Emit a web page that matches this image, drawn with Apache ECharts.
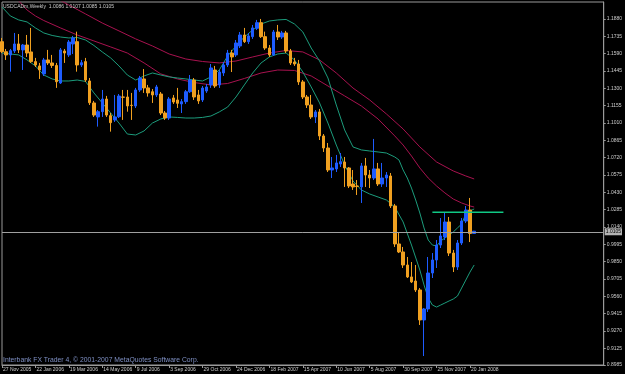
<!DOCTYPE html>
<html>
<head>
<meta charset="utf-8">
<script src="https://cdn.jsdelivr.net/npm/echarts@6/dist/echarts.min.js"></script>
<style>
html,body{margin:0;padding:0;background:#000;}
#chart{width:625px;height:374px;}
</style>
</head>
<body>
<div id="chart"></div>
<script>
// ---- data (USDCADm, Weekly) ----
const symbolTitle = 'USDCADm,Weekly';
const copyrightText = 'Interbank FX Trader 4, \u00a9 2001-2007 MetaQuotes Software Corp.';
const xTickLabels = ['27 Nov 2005','22 Jan 2006','19 Mar 2006','14 May 2006','9 Jul 2006','3 Sep 2006','29 Oct 2006','24 Dec 2006','18 Feb 2007','15 Apr 2007','10 Jun 2007','5 Aug 2007','30 Sep 2007','25 Nov 2007','20 Jan 2008'];
const yTickLabels = [0.8985,0.9125,0.9270,0.9415,0.9560,0.9705,0.9850,0.9995,1.0140,1.0285,1.0430,1.0575,1.0720,1.0865,1.1010,1.1155,1.1300,1.1445,1.1590,1.1735,1.1880];

const openVals = [1.1691,1.1607,1.1580,1.1613,1.1672,1.1622,1.1663,1.1605,1.1524,1.1488,1.1421,1.1538,1.1513,1.1492,1.1345,1.1613,1.1580,1.1672,1.1691,1.1496,1.1524,1.1362,1.1178,1.1061,1.1105,1.1211,1.1072,1.1036,1.1063,1.1228,1.1228,1.1159,1.1153,1.1287,1.1379,1.1304,1.1272,1.1245,1.1253,1.1094,1.1052,1.1220,1.1203,1.1170,1.1189,1.1272,1.1370,1.1245,1.1203,1.1278,1.1329,1.1454,1.1329,1.1429,1.1496,1.1596,1.1580,1.1655,1.1747,1.1691,1.1733,1.1803,1.1850,1.1733,1.1638,1.1580,1.1772,1.1730,1.1764,1.1613,1.1521,1.1504,1.1354,1.1228,1.1161,1.1061,1.1103,1.0902,1.0801,1.0617,1.0626,1.0667,1.0684,1.0634,1.0500,1.0483,1.0475,1.0651,1.0575,1.0550,1.0626,1.0500,1.0550,1.0567,1.0316,0.9998,0.9931,0.9822,0.9722,0.9688,0.9613,0.9362,0.9454,0.9755,0.9864,0.9989,1.0056,1.0182,0.9922,0.9805,1.0006,1.0190,1.0282,1.0086];
const highVals = [1.1722,1.1630,1.1630,1.1764,1.1755,1.1672,1.1747,1.1806,1.1555,1.1513,1.1555,1.1622,1.1580,1.1513,1.1638,1.1630,1.1705,1.1739,1.1775,1.1538,1.1555,1.1387,1.1195,1.1119,1.1287,1.1237,1.1094,1.1245,1.1253,1.1287,1.1287,1.1262,1.1304,1.1404,1.1462,1.1329,1.1295,1.1329,1.1270,1.1111,1.1228,1.1245,1.1304,1.1211,1.1287,1.1412,1.1387,1.1287,1.1320,1.1337,1.1504,1.1488,1.1454,1.1521,1.1622,1.1622,1.1705,1.1772,1.1806,1.1764,1.1831,1.1873,1.1881,1.1775,1.1663,1.1789,1.1831,1.1781,1.1781,1.1630,1.1555,1.1538,1.1370,1.1245,1.1245,1.1119,1.1128,1.0918,1.0843,1.0726,1.0743,1.0759,1.0726,1.0642,1.0617,1.0533,1.0676,1.0718,1.0617,1.0877,1.0676,1.0676,1.0600,1.0592,1.0333,1.0098,0.9973,0.9889,0.9847,0.9822,0.9629,0.9462,0.9889,0.9922,1.0031,1.0215,1.0257,1.0224,0.9948,1.0031,1.0215,1.0316,1.0383,1.0107];
const lowVals = [1.1596,1.1538,1.1440,1.1596,1.1596,1.1454,1.1563,1.1513,1.1479,1.1379,1.1404,1.1496,1.1471,1.1304,1.1337,1.1513,1.1563,1.1588,1.1440,1.1479,1.1354,1.1161,1.1061,1.0980,1.1061,1.1061,1.0938,1.1019,1.1052,1.1036,1.1105,1.1036,1.1136,1.1270,1.1262,1.1231,1.1178,1.1228,1.1077,1.1036,1.1036,1.1170,1.1136,1.1094,1.1170,1.1262,1.1203,1.1170,1.1186,1.1262,1.1304,1.1304,1.1304,1.1404,1.1479,1.1437,1.1563,1.1638,1.1680,1.1672,1.1714,1.1789,1.1722,1.1622,1.1563,1.1571,1.1705,1.1714,1.1596,1.1496,1.1488,1.1329,1.1211,1.1136,1.1044,1.1010,1.0868,1.0768,1.0600,1.0550,1.0600,1.0642,1.0475,1.0466,1.0450,1.0408,1.0341,1.0475,1.0466,1.0533,1.0483,1.0475,1.0475,1.0299,0.9973,0.9922,0.9797,0.9713,0.9671,0.9596,0.9320,0.9060,0.9429,0.9713,0.9797,0.9964,1.0031,0.9897,0.9763,0.9780,0.9989,1.0173,1.0014,1.0085];
const closeVals = [1.1607,1.1580,1.1616,1.1672,1.1622,1.1663,1.1596,1.1524,1.1496,1.1454,1.1538,1.1513,1.1492,1.1356,1.1622,1.1596,1.1688,1.1722,1.1496,1.1515,1.1370,1.1180,1.1077,1.1105,1.1211,1.1077,1.1013,1.1061,1.1236,1.1226,1.1153,1.1157,1.1287,1.1387,1.1304,1.1262,1.1245,1.1312,1.1094,1.1052,1.1211,1.1186,1.1175,1.1189,1.1272,1.1370,1.1228,1.1195,1.1303,1.1312,1.1471,1.1320,1.1437,1.1496,1.1596,1.1563,1.1680,1.1747,1.1691,1.1739,1.1806,1.1850,1.1733,1.1638,1.1580,1.1772,1.1730,1.1764,1.1613,1.1513,1.1504,1.1354,1.1228,1.1161,1.1061,1.1103,1.0902,1.0801,1.0617,1.0634,1.0676,1.0687,1.0634,1.0483,1.0475,1.0479,1.0651,1.0575,1.0550,1.0626,1.0500,1.0550,1.0575,1.0316,0.9998,0.9931,0.9822,0.9722,0.9680,0.9613,0.9362,0.9454,0.9755,0.9864,0.9989,1.0065,1.0182,0.9922,0.9805,1.0006,1.0190,1.0282,1.0086,1.0105];

// indicator lines: [bar index, price]
const tealUpper = [[0,1.1981],[2,1.1906],[4,1.1873],[6,1.1856],[8,1.1806],[10,1.1764],[12,1.1743],[14,1.1730],[16,1.1722],[18,1.1726],[20,1.1705],[22,1.1659],[24,1.1605],[26,1.1555],[28,1.1488],[30,1.1412],[32,1.1370],[34,1.1404],[36,1.1429],[38,1.1412],[40,1.1396],[42,1.1387],[44,1.1379],[46,1.1370],[48,1.1362],[50,1.1396],[52,1.1454],[54,1.1571],[56,1.1655],[58,1.1730],[60,1.1789],[62,1.1839],[64,1.1864],[66,1.1873],[68,1.1877],[70,1.1839],[72,1.1772],[74,1.1638],[76,1.1529],[78,1.1387],[80,1.1161],[82,1.0952],[84,1.0810],[86,1.0785],[88,1.0776],[90,1.0768],[92,1.0759],[94,1.0726],[95,1.0701],[96,1.0617],[97,1.0550],[98,1.0466],[99,1.0366],[100,1.0257],[101,1.0132],[102,1.0031],[103,0.9989],[104,0.9981],[105,1.0023],[106,1.0048],[107,1.0073],[108,1.0098],[109,1.0132],[110,1.0165],[111,1.0249],[112,1.0274],[113,1.0291]];
const tealLower = [[0,1.1596],[2,1.1588],[4,1.1580],[6,1.1538],[8,1.1488],[10,1.1412],[12,1.1379],[14,1.1362],[16,1.1362],[18,1.1370],[20,1.1358],[22,1.1262],[24,1.1178],[26,1.1094],[28,1.1010],[30,1.0918],[32,1.0910],[34,1.0944],[36,1.1010],[38,1.1044],[40,1.1061],[42,1.1057],[44,1.1052],[46,1.1052],[48,1.1057],[50,1.1069],[52,1.1103],[54,1.1144],[56,1.1228],[58,1.1329],[60,1.1429],[62,1.1513],[64,1.1563],[66,1.1588],[68,1.1596],[70,1.1538],[72,1.1437],[74,1.1312],[76,1.1178],[78,1.1010],[80,1.0826],[82,1.0659],[84,1.0525],[86,1.0450],[88,1.0416],[90,1.0391],[92,1.0366],[94,1.0307],[96,1.0182],[98,0.9989],[100,0.9780],[101,0.9655],[102,0.9546],[103,0.9487],[104,0.9470],[105,0.9487],[106,0.9504],[107,0.9521],[108,0.9537],[109,0.9562],[110,0.9629],[111,0.9696],[112,0.9763],[113,0.9822]];
const maroonUpper = [[0,1.2299],[4,1.2224],[8,1.2149],[12,1.2073],[16,1.1998],[20,1.1923],[24,1.1847],[28,1.1781],[32,1.1714],[36,1.1655],[40,1.1588],[44,1.1546],[48,1.1525],[52,1.1513],[56,1.1529],[60,1.1563],[64,1.1596],[68,1.1617],[72,1.1605],[76,1.1538],[80,1.1429],[84,1.1303],[88,1.1203],[92,1.1086],[96,1.0960],[100,1.0810],[104,1.0684],[108,1.0609],[111,1.0567],[113,1.0542]];
const maroonLower = [[0,1.2157],[2,1.2099],[4,1.2032],[6,1.1956],[8,1.1906],[10,1.1868],[14,1.1806],[18,1.1747],[22,1.1697],[26,1.1647],[30,1.1596],[34,1.1513],[38,1.1421],[42,1.1379],[46,1.1349],[50,1.1329],[54,1.1341],[58,1.1383],[62,1.1429],[66,1.1454],[70,1.1450],[74,1.1404],[78,1.1320],[82,1.1237],[86,1.1153],[90,1.1044],[94,1.0902],[96,1.0826],[98,1.0734],[100,1.0634],[102,1.0550],[104,1.0483],[106,1.0425],[108,1.0374],[110,1.0341],[112,1.0316],[113,1.0307]];
const levelLine = [[103,1.0263],[120,1.0263]];
const totalSlots = 145;

// ---- build ----
const n = openVals.length;
const last = n - 1;
const lastClose = closeVals[last];
const categories = Array.from({length: totalSlots}, (_, i) => String(i));
const candleData = openVals.map((o, i) => [o, closeVals[i], lowVals[i], highVals[i]]);
const titleText = symbolTitle + '  ' + [openVals[last], highVals[last], lowVals[last], closeVals[last]].map(v => v.toFixed(4)).join(' ');
const tickShown = (i) => i % 8 === 0 && (i / 8) < xTickLabels.length;
const FONT = 'Liberation Sans';
const AX = '#9a9a9a';

const chart = echarts.init(document.getElementById('chart'), null, {renderer: 'canvas'});
chart.setOption({
  backgroundColor: '#000000',
  animation: false,
  grid: {left: 1.5, right: 19.5, top: 2, bottom: 9, show: true, borderColor: AX, borderWidth: 1, backgroundColor: 'transparent'},
  xAxis: {
    type: 'category', data: categories, boundaryGap: false,
    axisLine: {show: true, lineStyle: {color: AX, width: 1}},
    axisTick: {show: true, interval: (i) => tickShown(i), length: 3, lineStyle: {color: AX}},
    axisLabel: {show: true, interval: (i) => tickShown(i), formatter: (v, i) => tickShown(i) ? xTickLabels[i / 8] : '', align: 'left', fontSize: 5, fontFamily: FONT, color: '#cccccc', margin: 2, padding: [0, 0, 0, 1]},
    splitLine: {show: false}
  },
  yAxis: {
    type: 'value', position: 'right', min: 0.8985, max: 1.2023, scale: true,
    axisLine: {show: true, lineStyle: {color: AX, width: 1}},
    axisTick: {show: true, length: 2, lineStyle: {color: AX}, customValues: yTickLabels},
    axisLabel: {show: true, customValues: yTickLabels, formatter: (v) => v.toFixed(4), fontSize: 5, fontFamily: FONT, color: '#cccccc', margin: 3},
    splitLine: {show: false}
  },
  series: [
    {type: 'line', data: maroonUpper, symbol: 'none', lineStyle: {color: '#a8124f', width: 1}, silent: true, z: 2},
    {type: 'line', data: maroonLower, symbol: 'none', lineStyle: {color: '#a8124f', width: 1}, silent: true, z: 2},
    {type: 'line', data: tealUpper, symbol: 'none', lineStyle: {color: '#1c9c7c', width: 1}, silent: true, z: 2},
    {type: 'line', data: tealLower, symbol: 'none', lineStyle: {color: '#1c9c7c', width: 1}, silent: true, z: 2},
    {
      type: 'candlestick', data: candleData, barWidth: 3, z: 3,
      itemStyle: {color: '#1e5cff', color0: '#f0a020', borderColor: '#1e5cff', borderColor0: '#f0a020', borderWidth: 1},
      markLine: {
        silent: true, symbol: 'none', animation: false,
        lineStyle: {color: '#a0a0a0', type: 'solid', width: 1},
        label: {show: true, position: 'end', formatter: lastClose.toFixed(4), backgroundColor: '#b4b4b4', color: '#000', fontSize: 5, fontFamily: FONT, padding: [1, 1, 1, 1], distance: 1},
        data: [{yAxis: lastClose}]
      }
    },
    {type: 'line', data: levelLine, symbol: 'none', lineStyle: {color: '#10c884', width: 1.5}, silent: true, z: 4}
  ],
  graphic: [
    {type: 'text', left: 3, top: 4, z: 10, style: {text: titleText, fill: '#cccccc', font: '5px "Liberation Sans"'}},
    {type: 'text', left: 3, top: 356.5, z: 10, style: {text: copyrightText, fill: '#7f90c4', font: '6.8px "Liberation Sans"'}}
  ]
});
</script>
</body>
</html>
